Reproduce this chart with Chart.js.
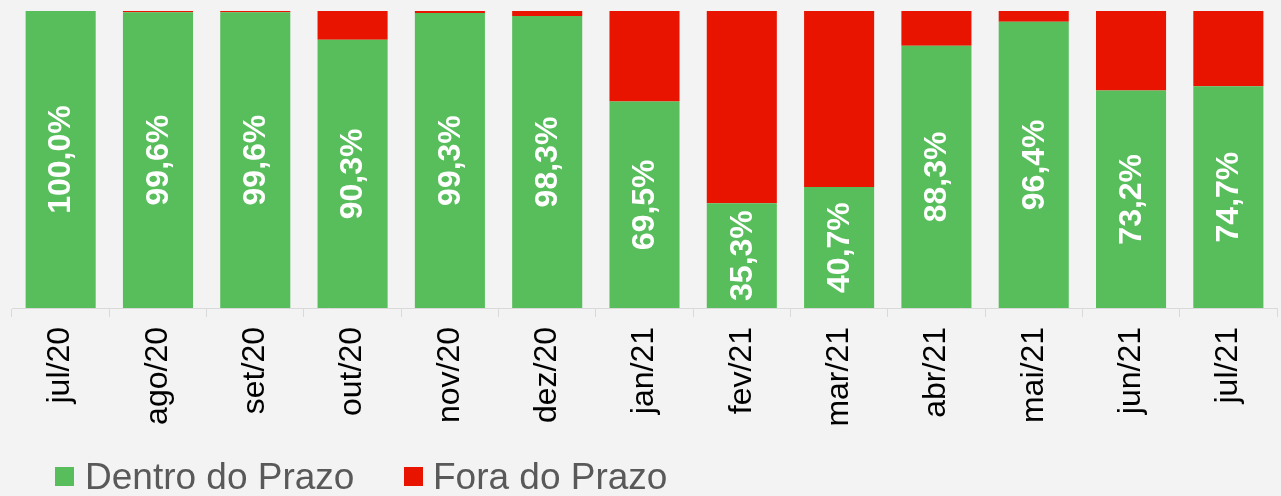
<!DOCTYPE html>
<html>
<head>
<meta charset="utf-8">
<script src="https://cdn.jsdelivr.net/npm/chart.js@4"></script>
<style>
  html, body { margin: 0; padding: 0; background: #F3F3F3; }
  #wrap { position: relative; width: 1281px; height: 496px; overflow: hidden; background: #F3F3F3; }
  #c { position: absolute; left: 0; top: 0; }
  .lbox { position: absolute; width: 19px; height: 19px; top: 467px; }
  .ltext { position: absolute; top: 458px; font-family: "Liberation Sans", Arial, sans-serif; font-size: 37px; line-height: 37px; color: #595959; white-space: nowrap; }
</style>
</head>
<body>
<div id="wrap">
  <canvas id="c" width="1281" height="496"></canvas>
  <div class="lbox" style="left:55px;background:#57BE5B"></div>
  <div class="ltext" style="left:85px">Dentro do Prazo</div>
  <div class="lbox" style="left:404px;background:#E81400"></div>
  <div class="ltext" style="left:433px">Fora do Prazo</div>
</div>
<script>
const categories = ["jul/20","ago/20","set/20","out/20","nov/20","dez/20","jan/21","fev/21","mar/21","abr/21","mai/21","jun/21","jul/21"];
const dentroValues = [100.0, 99.6, 99.6, 90.3, 99.3, 98.3, 69.5, 35.3, 40.7, 88.3, 96.4, 73.2, 74.7];
const foraValues = [0.0, 0.4, 0.4, 9.7, 0.7, 1.7, 30.5, 64.7, 59.3, 11.7, 3.6, 26.8, 25.3];
const dentroLabels = ["100,0%","99,6%","99,6%","90,3%","99,3%","98,3%","69,5%","35,3%","40,7%","88,3%","96,4%","73,2%","74,7%"];

const FONT = '"Liberation Sans", Arial, sans-serif';

const barLabels = {
  id: 'barLabels',
  afterDatasetsDraw(chart) {
    const ctx = chart.ctx;
    const meta = chart.getDatasetMeta(0);
    ctx.save();
    ctx.fillStyle = '#FFFFFF';
    ctx.font = 'bold 32px ' + FONT;
    ctx.textAlign = 'center';
    ctx.textBaseline = 'middle';
    meta.data.forEach((el, i) => {
      const cx = el.x;
      const cy = (el.y + el.base) / 2;
      ctx.save();
      ctx.translate(cx, cy);
      ctx.rotate(-Math.PI / 2);
      ctx.fillText(dentroLabels[i], 0, 1);
      ctx.restore();
    });
    ctx.restore();
  }
};

new Chart(document.getElementById('c'), {
  type: 'bar',
  data: {
    labels: categories,
    datasets: [
      { label: 'Dentro do Prazo', data: dentroValues, backgroundColor: '#57BE5B', barPercentage: 0.72, categoryPercentage: 1.0 },
      { label: 'Fora do Prazo', data: foraValues, backgroundColor: '#E81400', barPercentage: 0.72, categoryPercentage: 1.0 }
    ]
  },
  options: {
    responsive: false,
    animation: false,
    devicePixelRatio: 1,
    layout: { padding: { top: 11, left: 12, right: 4, bottom: 0 } },
    plugins: { legend: { display: false }, tooltip: { enabled: false } },
    scales: {
      x: {
        stacked: true,
        grid: { display: true, drawOnChartArea: false, drawTicks: true, tickLength: 9, color: '#D9D9D9', offset: true },
        border: { display: true, color: '#D9D9D9', width: 1 },
        ticks: { color: '#000000', font: { family: FONT, size: 32 }, minRotation: 90, maxRotation: 90, autoSkip: false, padding: 10 },
        afterFit(scale) { scale.height = 188; }
      },
      y: {
        stacked: true,
        display: false,
        min: 0,
        max: 100
      }
    }
  },
  plugins: [barLabels]
});
</script>
</body>
</html>
